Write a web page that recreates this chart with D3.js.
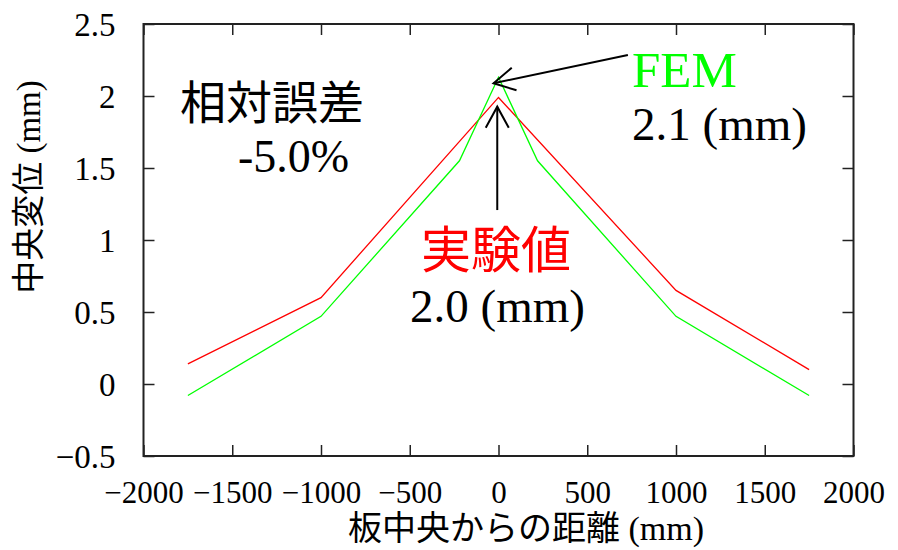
<!DOCTYPE html>
<html>
<head>
<meta charset="utf-8">
<script src="https://cdn.jsdelivr.net/npm/d3@7"></script>
</head>
<body style="margin:0">
<svg id="Target" width="898" height="550"></svg>
<script>
// measured displacement (red) and FEM result (green)
const expX = [-1750, -1000, 0, 1000, 1750];
const expY = [0.14, 0.60, 1.99, 0.65, 0.10];
const femX = [-1750, -1000, -220, 0, 220, 1000, 1750];
const femY = [-0.08, 0.47, 1.55, 2.13, 1.55, 0.47, -0.08];

const xTicks = [-2000, -1500, -1000, -500, 0, 500, 1000, 1500, 2000];
const yTicks = [-0.5, 0, 0.5, 1, 1.5, 2, 2.5];

// japanese labels (escaped)
const xTitle = "\u677F\u4E2D\u592E\u304B\u3089\u306E\u8DDD\u96E2";   // distance from plate centre
const yTitle = "\u4E2D\u592E\u5909\u4F4D";                           // centre displacement
const errLabel = "\u76F8\u5BFE\u8AA4\u5DEE";                         // relative error
const expLabel = "\u5B9F\u9A13\u5024";                               // experimental value

const W = 898, H = 550;
const margin = {top: 24, right: 44.5, bottom: 94, left: 143.5};
const SERIF = "Liberation Serif";
const GOTHIC = "Noto Sans CJK JP";

const svg = d3.select("#Target");

const x = d3.scaleLinear().domain([-2000, 2000]).range([margin.left, W - margin.right]);
const y = d3.scaleLinear().domain([-0.5, 2.5]).range([H - margin.bottom, margin.top]);

const fmt = d => d3.format("")(d);

// axes: ticks point inward on all four sides
const axisStyle = size => g => {
    g.attr("font-family", SERIF).attr("font-size", size);
    g.select(".domain").remove();
    g.selectAll(".tick line").attr("stroke", "#222").attr("stroke-width", 1.5);
    g.selectAll(".tick text").attr("fill", "#000");
};

svg.append("g")
    .attr("transform", `translate(0,${y(-0.5)})`)
    .call(d3.axisBottom(x).tickValues(xTicks).tickSizeInner(-11).tickSizeOuter(0).tickPadding(25).tickFormat(fmt))
    .call(axisStyle(31))
    .call(g => g.selectAll(".tick text").attr("dy", "0.71em"));

svg.append("g")
    .attr("transform", `translate(0,${y(2.5)})`)
    .call(d3.axisTop(x).tickValues(xTicks).tickSizeInner(-11).tickSizeOuter(0).tickFormat(""))
    .call(axisStyle(31));

svg.append("g")
    .attr("transform", `translate(${x(-2000)},0)`)
    .call(d3.axisLeft(y).tickValues(yTicks).tickSizeInner(-11).tickSizeOuter(0).tickPadding(28).tickFormat(fmt))
    .call(axisStyle(33))
    .call(g => g.selectAll(".tick text").attr("dy", "0.36em"));

svg.append("g")
    .attr("transform", `translate(${x(2000)},0)`)
    .call(d3.axisRight(y).tickValues(yTicks).tickSizeInner(-11).tickSizeOuter(0).tickFormat(""))
    .call(axisStyle(33));

svg.append("rect")
    .attr("x", x(-2000)).attr("y", y(2.5))
    .attr("width", x(2000) - x(-2000)).attr("height", y(-0.5) - y(2.5))
    .attr("fill", "none").attr("stroke", "#222").attr("stroke-width", 2);

// lines
const line = d3.line().x(d => x(d[0])).y(d => y(d[1]));

svg.append("path")
    .datum(d3.zip(expX, expY))
    .attr("d", line)
    .attr("fill", "none").attr("stroke", "#ff0000").attr("stroke-width", 1.3);

svg.append("path")
    .datum(d3.zip(femX, femY))
    .attr("d", line)
    .attr("fill", "none").attr("stroke", "#00ff00").attr("stroke-width", 1.3);

// text helper
const label = (px, py, size, fill, family, str) =>
    svg.append("text").attr("x", px).attr("y", py)
        .attr("font-family", family).attr("font-size", size)
        .attr("fill", fill).text(str);

// axis titles: japanese part in gothic, "(mm)" in serif
const xt = svg.append("text")
    .attr("x", 526).attr("y", 540)
    .attr("text-anchor", "middle")
    .attr("font-size", 34);
xt.append("tspan").attr("font-family", GOTHIC).text(xTitle);
xt.append("tspan").attr("font-family", SERIF).text(" (mm)");

const yt = svg.append("text")
    .attr("transform", "translate(40,187) rotate(-90)")
    .attr("text-anchor", "middle")
    .attr("font-size", 33);
yt.append("tspan").attr("font-family", GOTHIC).text(yTitle);
yt.append("tspan").attr("font-family", SERIF).text(" (mm)");

// annotation arrows (data coords)
const arrow = (x0, y0, x1, y1) => {
    const px0 = x(x0), py0 = y(y0), px1 = x(x1), py1 = y(y1);
    const ang = Math.atan2(py0 - py1, px0 - px1);
    const len = 24, spread = 0.5;
    const g = svg.append("g").attr("stroke", "#000").attr("stroke-width", 2).attr("fill", "none");
    g.append("line").attr("x1", px0).attr("y1", py0).attr("x2", px1).attr("y2", py1);
    g.append("path").attr("d",
        `M${px1 + len * Math.cos(ang - spread)},${py1 + len * Math.sin(ang - spread)}` +
        `L${px1},${py1}` +
        `L${px1 + len * Math.cos(ang + spread)},${py1 + len * Math.sin(ang + spread)}`);
};
arrow(729, 2.285, -28, 2.088);
arrow(-7, 1.208, -7, 1.926);

// annotation texts
label(180, 119, 46, "#000", GOTHIC, errLabel);
label(238, 172, 46, "#000", SERIF, "-5.0%");
label(632, 87, 51, "#00ff00", SERIF, "FEM");
label(632, 140, 47, "#000", SERIF, "2.1 (mm)");
label(421, 268, 50, "#ff0000", GOTHIC, expLabel);
label(410, 322, 47, "#000", SERIF, "2.0 (mm)");
</script>
</body>
</html>
